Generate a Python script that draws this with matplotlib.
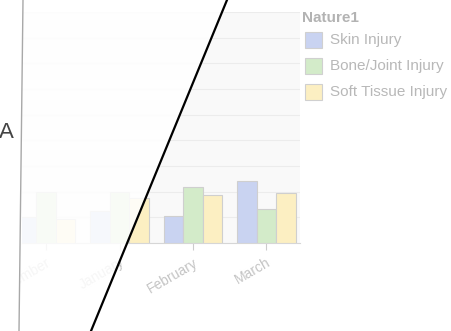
import numpy as np
import matplotlib
matplotlib.use("Agg")
import matplotlib.pyplot as plt
from matplotlib.patches import Rectangle, Polygon
from matplotlib.lines import Line2D

months = ["December", "January", "February", "March"]
series = ["Skin Injury", "Bone/Joint Injury", "Soft Tissue Injury"]
skin = [5.1, 6.3, 5.3, 12.1]
bone = [9.9, 10.0, 11.0, 6.7]
soft = [4.7, 8.8, 9.4, 9.7]
colors = ["#c9d3f1", "#d3ebc9", "#fcefc2"]
legend_title = "Nature1"

W, H = 452, 331
fig = plt.figure(figsize=(W / 100, H / 100), dpi=100)
fig.patch.set_facecolor("white")


def fx(px):
    return px / W


def fy(py):
    return 1 - py / H


# plot area in pixels: x 22..300, y 12..243
ax = fig.add_axes([fx(22), fy(243), fx(300) - fx(22), fy(12) - fy(243)])
ax.set_facecolor("#f9f9f9")

x = np.arange(len(months))
bw = 0.266
for i, vals in enumerate([skin, bone, soft]):
    ax.bar(x + (i - 1) * bw, vals, width=bw, color=colors[i],
           edgecolor="#cfcfcf", linewidth=0.8, zorder=3)

ax.set_xlim(-0.33, 3.46)
ax.set_ylim(0, 45)
ax.set_yticks(np.arange(0, 46, 5))
ax.yaxis.grid(True, color="#ececec", linewidth=0.8, zorder=0)
ax.tick_params(axis="y", length=0, labelleft=False)
ax.set_xticks(x)
ax.set_xticklabels(months, rotation=30, ha="right", rotation_mode="anchor",
                   fontsize=10, color="#c4c4c4", family="Liberation Sans")
ax.tick_params(axis="x", length=5, color="#cccccc", pad=4)
for s in ["top", "right", "left"]:
    ax.spines[s].set_visible(False)
ax.spines["bottom"].set_color("#d6d6d6")

# legend drawn by hand at the right side
fig.text(fx(302), fy(18), legend_title, fontsize=11, fontweight="bold",
         color="#b3b3b3", family="Liberation Sans", va="center")
for i, name in enumerate(series):
    cy = 40 + i * 26
    fig.patches.append(Rectangle((fx(305), fy(cy + 8)), fx(17), fy(cy - 8) - fy(cy + 8),
                                 transform=fig.transFigure, facecolor=colors[i],
                                 edgecolor="#d0d0d0", linewidth=0.8))
    fig.text(fx(330), fy(cy), name, fontsize=11, color="#b8b8b8",
             family="Liberation Sans", va="center")

# faded part left of the diagonal
fade = Polygon([(0, 1), (fx(227), 1), (fx(91), 0), (0, 0)], closed=True,
               transform=fig.transFigure, facecolor="white", alpha=0.85,
               edgecolor="none", zorder=10)
fig.patches.append(fade)
# chart is cut at the thin vertical line
cut = Polygon([(0, 1), (fx(23), 1), (fx(19), 0), (0, 0)], closed=True,
              transform=fig.transFigure, facecolor="white",
              edgecolor="none", zorder=10.5)
fig.patches.append(cut)

fig.lines.append(Line2D([fx(23), fx(19)], [1, 0], transform=fig.transFigure,
                        color="#a8a8a8", linewidth=1, zorder=11))
fig.lines.append(Line2D([fx(227), fx(91)], [1, 0], transform=fig.transFigure,
                        color="black", linewidth=1.6, zorder=12))
fig.text(fx(-1), fy(132), "A", fontsize=16, color="#444444",
         family="Liberation Sans", va="center", ha="left", zorder=12)

fig.savefig("out.png", dpi=100)
